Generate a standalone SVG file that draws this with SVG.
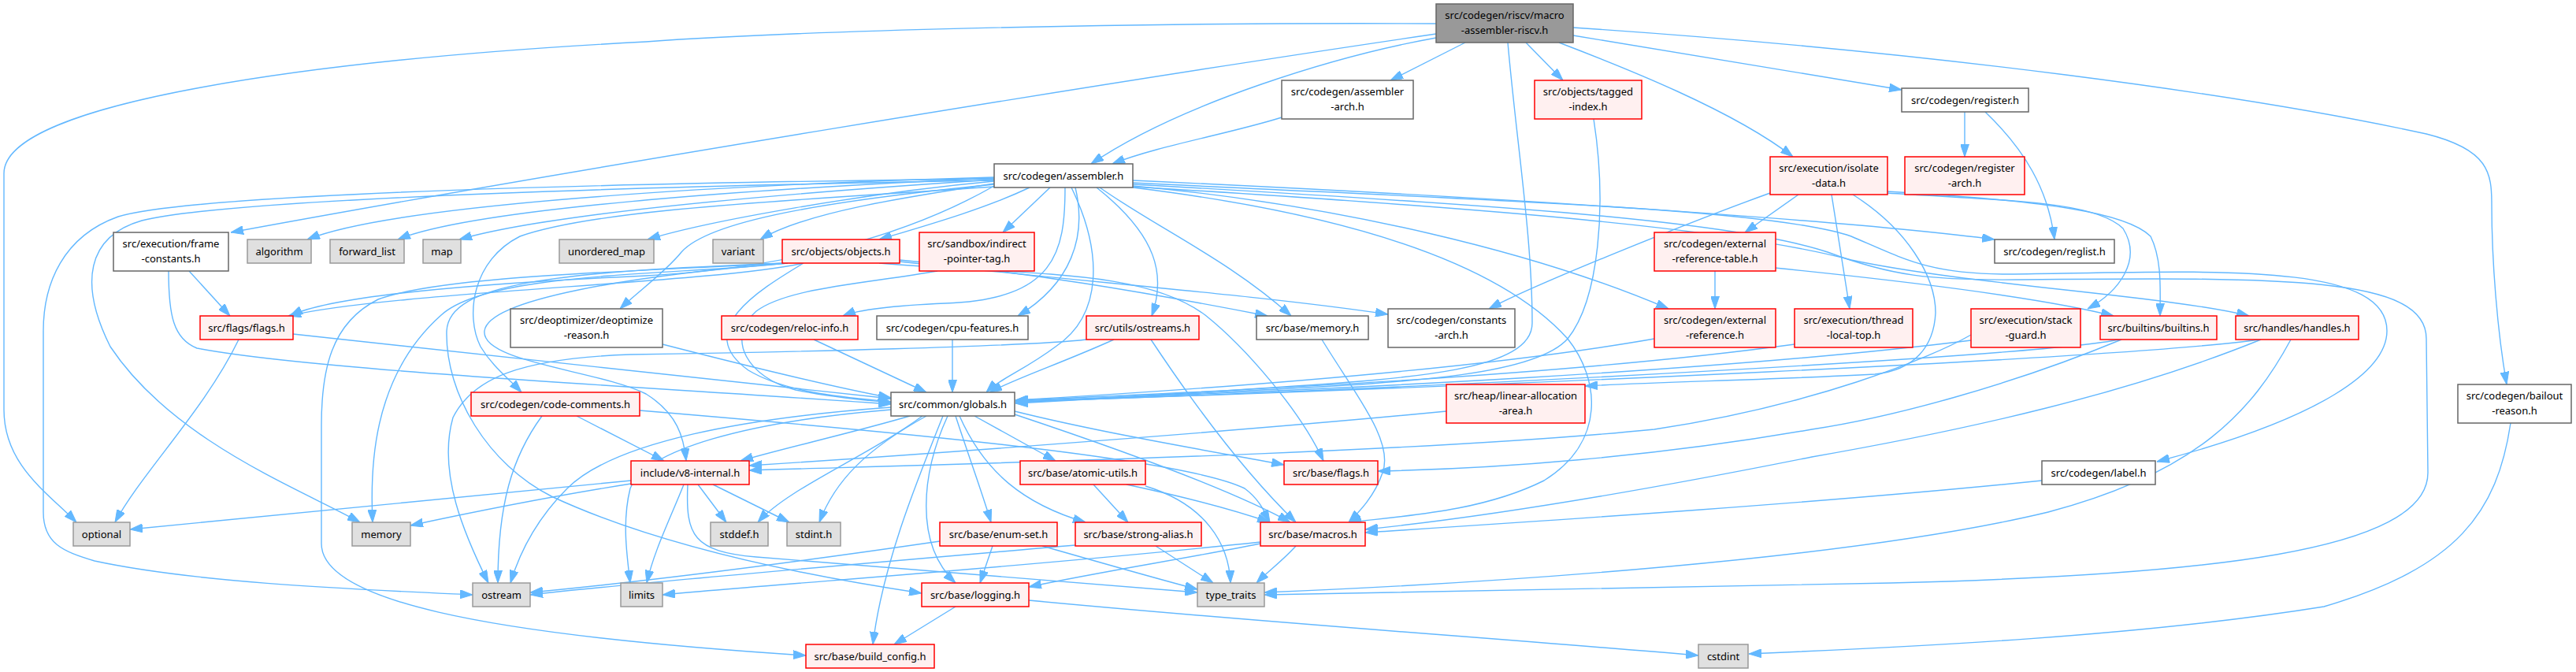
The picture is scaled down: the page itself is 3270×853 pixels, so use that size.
<svg xmlns="http://www.w3.org/2000/svg" width="3270" height="853" viewBox="0 0 3270 853">
<defs>
<marker id="a" markerUnits="userSpaceOnUse" markerWidth="16" markerHeight="11" refX="16" refY="5.5" orient="auto">
<path d="M0,0 L16,5.5 L0,11 z" fill="#63b8ff" stroke="#63b8ff" stroke-width="1"/>
</marker>
<style>
text{font-family:"Noto Sans","Liberation Sans",sans-serif;font-size:13px;fill:#000;text-anchor:middle}
.w rect{fill:#fff;stroke:#666;stroke-width:1.5}
.r rect{fill:#fff0f0;stroke:#ff0000;stroke-width:1.5}
.g rect{fill:#e0e0e0;stroke:#999;stroke-width:1.5}
.root rect{fill:#999;stroke:#666;stroke-width:1.5}
#edges path{fill:none;stroke:#63b8ff;stroke-width:1.4;marker-end:url(#a)}
</style>
</defs>
<rect width="3270" height="853" fill="#fff"/>
<g id="edges">
<path d="M1823,30 C1400,28 1000,40 820,53 C400,75 5,130 5,220 L5,520 C5,590 60,625 97,663"/>
<path d="M1823,43 C1400,105 700,220 293,295"/>
<path d="M1823,48 C1700,70 1500,130 1385,208"/>
<path d="M1627,149 C1560,170 1470,185 1412,208"/>
<path d="M1860,54 L1765,102"/>
<path d="M1914,54 C1925,180 1945,300 1945,410 C1945,470 1800,480 1600,493 C1450,503 1350,508 1289,511"/>
<path d="M1937,54 L1984,102"/>
<path d="M2023,151 C2040,260 2030,380 1990,430 C1950,475 1800,485 1600,495 C1450,503 1350,509 1289,512"/>
<path d="M1979,54 C2060,85 2200,140 2276,199"/>
<path d="M1997,45 L2414,114"/>
<path d="M1997,35 C2450,65 2850,120 3080,170 C3160,190 3163,220 3163,260 C3163,330 3170,420 3182,488"/>
<path d="M2494,142 L2494,199"/>
<path d="M2520,142 C2570,190 2600,240 2608,304"/>
<path d="M3187,537 C3170,650 3120,720 2950,770 C2700,810 2400,822 2220,830"/>
<path d="M2283,247 L2215,295"/>
<path d="M2247,245 C2150,280 1950,360 1890,392"/>
<path d="M2325,247 L2348,392"/>
<path d="M2395,245 C2550,255 2660,255 2695,290 C2720,330 2690,370 2650,392"/>
<path d="M2395,243 C2600,255 2700,270 2730,300 C2745,330 2742,370 2742,401"/>
<path d="M2352,247 C2420,290 2457,350 2457,397 C2455,440 2430,470 2380,475 C2250,482 2100,485 2012,490"/>
<path d="M2502,425 C2450,455 2300,515 2100,545 C1800,575 1250,588 951,597"/>
<path d="M1836,522 C1600,545 1200,575 951,591"/>
<path d="M2100,430 C1900,465 1600,490 1289,508"/>
<path d="M2278,437 C2000,475 1600,495 1289,508"/>
<path d="M2502,432 C2200,470 1700,495 1289,509"/>
<path d="M2690,431 C2600,450 1900,490 1289,510"/>
<path d="M2868,431 C2700,455 1900,490 1289,510"/>
<path d="M2693,431 C2550,490 2400,530 2300,545 C2100,580 1900,595 1749,598"/>
<path d="M2870,431 C2700,500 2500,545 2300,580 C2100,620 1900,655 1733,672"/>
<path d="M2592,610 C2300,640 1900,665 1733,676"/>
<path d="M2908,431 C2860,520 2790,600 2600,650 C2350,710 1900,740 1605,752"/>
<path d="M1438,234 C1900,260 2200,280 2320,320 C2400,350 2450,356 2560,355 C2900,352 3080,350 3080,430 L3082,600 C3082,700 2800,730 2400,740 C2100,745 1800,750 1605,755"/>
<path d="M1438,232 C1900,255 2250,265 2350,300 C2420,330 2450,348 2550,348 C2800,345 3030,330 3030,420 C3030,470 2950,530 2738,586"/>
<path d="M1438,229 C1900,250 2350,280 2532,304"/>
<path d="M2253,340 C2450,360 2600,380 2683,401"/>
<path d="M1438,237 C1900,265 2200,290 2350,330 C2500,362 2750,375 2855,401"/>
<path d="M1438,236 C1700,260 1950,320 2118,392"/>
<path d="M1438,238 C1700,270 1900,330 1990,430 C2030,480 2040,560 1960,610 C1880,650 1780,655 1712,663"/>
<path d="M1396,238 C1470,290 1560,330 1639,401"/>
<path d="M1392,238 C1470,300 1480,350 1462,401"/>
<path d="M1365,238 C1380,300 1360,360 1292,401"/>
<path d="M1352,238 C1352,320 1340,380 1200,385 C1130,388 1090,393 1070,401"/>
<path d="M1360,238 C1400,320 1400,400 1340,440 C1300,470 1270,480 1252,498"/>
<path d="M1333,238 L1273,295"/>
<path d="M1307,238 C1250,265 1180,285 1116,304"/>
<path d="M1262,233 C1150,250 1020,270 965,304"/>
<path d="M1262,230 C1100,245 900,280 822,304"/>
<path d="M1262,228 C1000,245 700,270 583,304"/>
<path d="M1262,226 C950,240 600,265 505,304"/>
<path d="M1262,225 C900,235 500,260 390,304"/>
<path d="M1262,236 C1150,300 1000,340 820,350 C600,360 420,375 368,401"/>
<path d="M1262,234 C1050,255 900,280 865,320 C845,345 810,370 787,392"/>
<path d="M1262,237 C1000,255 760,265 660,300 C600,330 590,400 610,440 C625,465 645,480 662,498"/>
<path d="M1262,229 C900,235 300,250 180,280 C110,300 100,360 140,440 C220,560 380,620 457,663"/>
<path d="M1262,227 C800,232 250,245 150,275 C80,300 55,360 55,420 L55,650 C55,690 80,700 120,712 C250,740 450,748 600,755"/>
<path d="M1020,334 C900,360 500,370 366,401"/>
<path d="M1020,334 C960,370 880,420 950,470 C1000,500 1080,505 1131,510"/>
<path d="M1000,334 C850,350 620,345 560,400 C470,480 470,600 473,663"/>
<path d="M995,334 C800,345 560,350 480,380 C420,410 408,470 408,540 L408,690 C408,760 600,805 1023,832"/>
<path d="M1000,334 C700,345 570,360 567,420 C565,500 620,590 700,630 C850,700 1050,735 1170,753"/>
<path d="M1142,330 C1300,345 1450,370 1609,401"/>
<path d="M1142,332 C1400,360 1600,375 1762,399"/>
<path d="M1116,334 C1300,350 1450,340 1530,400 C1580,440 1650,520 1680,585"/>
<path d="M1000,334 C800,350 620,380 615,420 C610,460 760,470 820,500 C860,525 868,555 871,585"/>
<path d="M1190,344 C1100,360 1000,365 960,395 C920,430 950,480 1010,495 C1060,505 1100,508 1131,511"/>
<path d="M240,344 L292,401"/>
<path d="M214,344 C214,400 220,430 250,442 C400,470 800,490 1131,513"/>
<path d="M303,431 C260,520 180,600 146,663"/>
<path d="M372,424 C600,450 900,480 1131,506"/>
<path d="M841,437 C950,465 1050,490 1131,505"/>
<path d="M1033,431 L1176,498"/>
<path d="M1209,431 L1209,498"/>
<path d="M1414,431 C1350,460 1290,480 1256,498"/>
<path d="M1379,431 C1300,440 1000,447 800,450 C660,455 600,480 575,530 C555,600 590,680 620,740"/>
<path d="M1461,431 C1520,520 1580,600 1645,663"/>
<path d="M732,528 L843,585"/>
<path d="M688,528 C650,580 632,640 632,740"/>
<path d="M812,521 C1100,545 1500,580 1580,620 C1600,635 1605,650 1612,663"/>
<path d="M1155,528 C1080,550 990,570 940,585"/>
<path d="M1171,528 C1100,580 1000,620 962,663"/>
<path d="M1176,528 C1100,570 1060,610 1040,663"/>
<path d="M1197,528 C1160,620 1120,720 1108,818"/>
<path d="M1203,528 C1170,600 1160,690 1213,740"/>
<path d="M1213,528 C1230,580 1245,620 1258,663"/>
<path d="M1218,528 C1250,600 1300,640 1378,663"/>
<path d="M1237,528 L1340,585"/>
<path d="M1288,522 C1400,550 1550,575 1630,590"/>
<path d="M1288,526 C1420,570 1560,620 1638,663"/>
<path d="M1131,517 C950,530 780,560 720,620 C680,660 660,700 648,740"/>
<path d="M1131,520 C950,535 820,570 800,620 C790,660 795,700 800,740"/>
<path d="M801,610 L165,672"/>
<path d="M801,614 C700,630 600,650 521,667"/>
<path d="M886,615 L922,663"/>
<path d="M905,615 L1002,663"/>
<path d="M868,615 C850,660 830,700 821,740"/>
<path d="M873,615 C870,680 880,700 960,707 C1100,720 1300,735 1520,752"/>
<path d="M1388,615 L1432,663"/>
<path d="M1430,615 C1500,630 1560,645 1612,663"/>
<path d="M1454,617 C1530,640 1560,690 1562,740"/>
<path d="M1193,687 C1000,715 800,740 673,752"/>
<path d="M1260,693 L1244,740"/>
<path d="M1323,693 C1400,715 1470,735 1520,748"/>
<path d="M1365,692 C1100,715 800,740 673,755"/>
<path d="M1467,693 L1540,740"/>
<path d="M1600,690 C1500,710 1400,725 1306,745"/>
<path d="M1600,688 C1300,720 1000,740 841,755"/>
<path d="M1645,693 C1630,710 1610,725 1595,740"/>
<path d="M1213,770 L1135,818"/>
<path d="M1306,762 C1600,790 1900,810 2156,832"/>
<path d="M1678,431 C1720,500 1770,560 1755,600 C1745,630 1725,650 1712,663"/>
<path d="M2177,344 L2177,392"/>
</g>
<g id="n_root" class="root"><rect x="1823" y="5" width="174" height="49"/><text x="1910" y="24">src/codegen/riscv/macro</text><text x="1910" y="43">-assembler-riscv.h</text></g>
<g id="n_aarch" class="w"><rect x="1627" y="102" width="167" height="49"/><text x="1710.5" y="121">src/codegen/assembler</text><text x="1710.5" y="140">-arch.h</text></g>
<g id="n_tidx" class="r"><rect x="1948" y="102" width="136" height="49"/><text x="2016" y="121">src/objects/tagged</text><text x="2016" y="140">-index.h</text></g>
<g id="n_reg" class="w"><rect x="2414" y="112" width="161" height="30"/><text x="2494.5" y="131.5">src/codegen/register.h</text></g>
<g id="n_iso" class="r"><rect x="2247" y="199" width="149" height="48"/><text x="2321.5" y="218">src/execution/isolate</text><text x="2321.5" y="237">-data.h</text></g>
<g id="n_rarch" class="r"><rect x="2418" y="199" width="152" height="48"/><text x="2494" y="218">src/codegen/register</text><text x="2494" y="237">-arch.h</text></g>
<g id="n_asm" class="w"><rect x="1262" y="208" width="176" height="30"/><text x="1350" y="227.5">src/codegen/assembler.h</text></g>
<g id="n_fc" class="w"><rect x="144" y="295" width="146" height="49"/><text x="217" y="314">src/execution/frame</text><text x="217" y="333">-constants.h</text></g>
<g id="n_alg" class="g"><rect x="314" y="304" width="81" height="30"/><text x="354.5" y="323.5">algorithm</text></g>
<g id="n_fl" class="g"><rect x="419" y="304" width="94" height="30"/><text x="466" y="323.5">forward_list</text></g>
<g id="n_map" class="g"><rect x="537" y="304" width="48" height="30"/><text x="561" y="323.5">map</text></g>
<g id="n_um" class="g"><rect x="710" y="304" width="120" height="30"/><text x="770" y="323.5">unordered_map</text></g>
<g id="n_var" class="g"><rect x="905" y="304" width="64" height="30"/><text x="937" y="323.5">variant</text></g>
<g id="n_obj" class="r"><rect x="993" y="304" width="149" height="30"/><text x="1067.5" y="323.5">src/objects/objects.h</text></g>
<g id="n_sb" class="r"><rect x="1167" y="295" width="146" height="49"/><text x="1240" y="314">src/sandbox/indirect</text><text x="1240" y="333">-pointer-tag.h</text></g>
<g id="n_ert" class="r"><rect x="2100" y="295" width="154" height="49"/><text x="2177" y="314">src/codegen/external</text><text x="2177" y="333">-reference-table.h</text></g>
<g id="n_rl" class="w"><rect x="2532" y="304" width="152" height="30"/><text x="2608" y="323.5">src/codegen/reglist.h</text></g>
<g id="n_ff" class="r"><rect x="254" y="401" width="118" height="30"/><text x="313" y="420.5">src/flags/flags.h</text></g>
<g id="n_deo" class="w"><rect x="648" y="392" width="193" height="49"/><text x="744.5" y="411">src/deoptimizer/deoptimize</text><text x="744.5" y="430">-reason.h</text></g>
<g id="n_ri" class="r"><rect x="916" y="401" width="173" height="30"/><text x="1002.5" y="420.5">src/codegen/reloc-info.h</text></g>
<g id="n_cpu" class="w"><rect x="1113" y="401" width="192" height="30"/><text x="1209" y="420.5">src/codegen/cpu-features.h</text></g>
<g id="n_os" class="r"><rect x="1379" y="401" width="143" height="30"/><text x="1450.5" y="420.5">src/utils/ostreams.h</text></g>
<g id="n_bm" class="w"><rect x="1595" y="401" width="142" height="30"/><text x="1666" y="420.5">src/base/memory.h</text></g>
<g id="n_ca" class="w"><rect x="1762" y="392" width="161" height="49"/><text x="1842.5" y="411">src/codegen/constants</text><text x="1842.5" y="430">-arch.h</text></g>
<g id="n_er" class="r"><rect x="2100" y="392" width="154" height="49"/><text x="2177" y="411">src/codegen/external</text><text x="2177" y="430">-reference.h</text></g>
<g id="n_tlt" class="r"><rect x="2278" y="392" width="150" height="49"/><text x="2353" y="411">src/execution/thread</text><text x="2353" y="430">-local-top.h</text></g>
<g id="n_sg" class="r"><rect x="2502" y="392" width="139" height="49"/><text x="2571.5" y="411">src/execution/stack</text><text x="2571.5" y="430">-guard.h</text></g>
<g id="n_bi" class="r"><rect x="2666" y="401" width="148" height="30"/><text x="2740" y="420.5">src/builtins/builtins.h</text></g>
<g id="n_hd" class="r"><rect x="2838" y="401" width="156" height="30"/><text x="2916" y="420.5">src/handles/handles.h</text></g>
<g id="n_cc" class="r"><rect x="598" y="498" width="214" height="30"/><text x="705" y="517.5">src/codegen/code-comments.h</text></g>
<g id="n_gl" class="w"><rect x="1131" y="498" width="157" height="30"/><text x="1209.5" y="517.5">src/common/globals.h</text></g>
<g id="n_laa" class="r"><rect x="1836" y="488" width="176" height="49"/><text x="1924" y="507">src/heap/linear-allocation</text><text x="1924" y="526">-area.h</text></g>
<g id="n_br" class="w"><rect x="3120" y="488" width="144" height="49"/><text x="3192" y="507">src/codegen/bailout</text><text x="3192" y="526">-reason.h</text></g>
<g id="n_v8" class="r"><rect x="801" y="585" width="150" height="30"/><text x="876" y="604.5">include/v8-internal.h</text></g>
<g id="n_au" class="r"><rect x="1295" y="585" width="159" height="30"/><text x="1374.5" y="604.5">src/base/atomic-utils.h</text></g>
<g id="n_bf" class="r"><rect x="1630" y="585" width="119" height="30"/><text x="1689.5" y="604.5">src/base/flags.h</text></g>
<g id="n_lb" class="w"><rect x="2592" y="585" width="144" height="30"/><text x="2664" y="604.5">src/codegen/label.h</text></g>
<g id="n_opt" class="g"><rect x="93" y="663" width="72" height="30"/><text x="129" y="682.5">optional</text></g>
<g id="n_mem" class="g"><rect x="447" y="663" width="74" height="30"/><text x="484" y="682.5">memory</text></g>
<g id="n_sdd" class="g"><rect x="902" y="663" width="73" height="30"/><text x="938.5" y="682.5">stddef.h</text></g>
<g id="n_sdi" class="g"><rect x="999" y="663" width="68" height="30"/><text x="1033" y="682.5">stdint.h</text></g>
<g id="n_es" class="r"><rect x="1193" y="663" width="149" height="30"/><text x="1267.5" y="682.5">src/base/enum-set.h</text></g>
<g id="n_sa" class="r"><rect x="1365" y="663" width="160" height="30"/><text x="1445" y="682.5">src/base/strong-alias.h</text></g>
<g id="n_mac" class="r"><rect x="1600" y="663" width="133" height="30"/><text x="1666.5" y="682.5">src/base/macros.h</text></g>
<g id="n_ost" class="g"><rect x="600" y="740" width="73" height="30"/><text x="636.5" y="759.5">ostream</text></g>
<g id="n_lim" class="g"><rect x="788" y="740" width="53" height="30"/><text x="814.5" y="759.5">limits</text></g>
<g id="n_log" class="r"><rect x="1170" y="740" width="136" height="30"/><text x="1238" y="759.5">src/base/logging.h</text></g>
<g id="n_tt" class="g"><rect x="1520" y="740" width="85" height="30"/><text x="1562.5" y="759.5">type_traits</text></g>
<g id="n_bc" class="r"><rect x="1023" y="818" width="163" height="30"/><text x="1104.5" y="837.5">src/base/build_config.h</text></g>
<g id="n_cst" class="g"><rect x="2156" y="818" width="63" height="30"/><text x="2187.5" y="837.5">cstdint</text></g>
</svg>
